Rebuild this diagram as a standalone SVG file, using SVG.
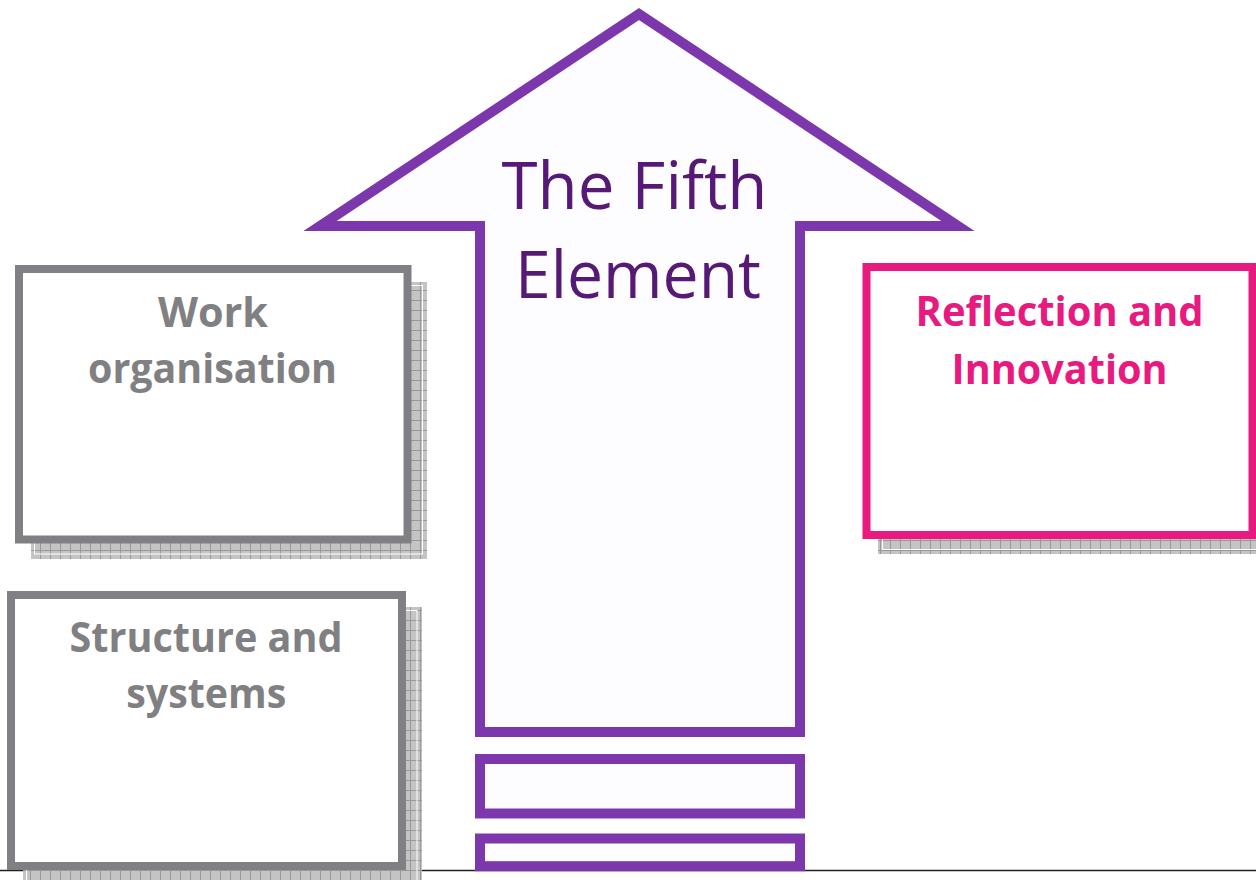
<svg xmlns="http://www.w3.org/2000/svg" width="1256" height="880" viewBox="0 0 1256 880">
  <defs>
    <pattern id="grid" width="10" height="10" patternUnits="userSpaceOnUse">
      <rect width="10" height="10" fill="#c4c4c4"/>
      <path d="M0 0.5 H10 M0.5 0 V10" stroke="#999999" stroke-width="1" fill="none"/>
    </pattern>
    <style>
      .shadow { fill: url(#grid); }
      .shadow-edge { fill: none; stroke: #ffffff; stroke-width: 1; }
      .gbox { fill: #ffffff; stroke: #808084; stroke-width: 8; }
      .pbox { fill: #ffffff; stroke: #e8197f; stroke-width: 8; }
      .arrow { fill: #fdfcfe; stroke: #7b37ab; stroke-width: 10; stroke-linejoin: miter; stroke-miterlimit: 6; }
      .lbl { font-family: "Open Sans", "Noto Sans", sans-serif; font-weight: bold; font-size: 41px; text-anchor: middle; }
      .gray { fill: #808083; }
      .pink { fill: #e8197f; }
      .title { font-family: "Open Sans", "Noto Sans", sans-serif; font-size: 66px; fill: #561a76; text-anchor: middle; }
    </style>
  </defs>
  <rect width="1256" height="880" fill="#ffffff"/>
  <line id="baseline" x1="0" y1="870.5" x2="1256" y2="870.5" stroke="#231f20" stroke-width="1.5"/>

  <g id="fifth-element">
    <path class="arrow" d="M480 732 L480 226 L320 226 L639 14 L958 226 L800 226 L800 732 Z"/>
    <rect class="arrow" x="480" y="759" width="320" height="54.5"/>
    <rect class="arrow" x="480" y="838.5" width="320" height="27.7"/>
    <text class="title" x="634.5" y="209" textLength="266" lengthAdjust="spacingAndGlyphs">The Fifth</text>
    <text class="title" x="638" y="298" textLength="246" lengthAdjust="spacingAndGlyphs">Element</text>
  </g>

  <g id="work-organisation">
    <rect class="shadow" x="31" y="282" width="396" height="277"/>
    <rect class="shadow-edge" x="34.5" y="285.5" width="388" height="268.5"/>
    <rect class="gbox" x="19" y="269" width="388.5" height="270.5"/>
    <text class="lbl gray" x="213" y="327" textLength="110" lengthAdjust="spacingAndGlyphs">Work</text>
    <text class="lbl gray" x="212.5" y="383" textLength="249" lengthAdjust="spacingAndGlyphs">organisation</text>
  </g>

  <g id="structure-systems">
    <rect class="shadow" x="23" y="607" width="399" height="280"/>
    <rect class="shadow-edge" x="26.5" y="610.5" width="390.5" height="280"/>
    <rect class="gbox" x="11" y="595" width="391" height="271"/>
    <text class="lbl gray" x="206" y="652" textLength="273" lengthAdjust="spacingAndGlyphs">Structure and</text>
    <text class="lbl gray" x="206.3" y="708" textLength="160" lengthAdjust="spacingAndGlyphs">systems</text>
  </g>

  <g id="reflection-innovation">
    <rect class="shadow" x="878" y="279" width="400" height="275"/>
    <rect class="shadow-edge" x="882.5" y="282.5" width="400" height="267"/>
    <rect class="pbox" x="866.5" y="267" width="386" height="268"/>
    <text class="lbl pink" x="1059.6" y="326" textLength="288" lengthAdjust="spacingAndGlyphs">Reflection and</text>
    <text class="lbl pink" x="1059.6" y="384" textLength="216" lengthAdjust="spacingAndGlyphs">Innovation</text>
  </g>

  <g id="connectors"/>
</svg>
